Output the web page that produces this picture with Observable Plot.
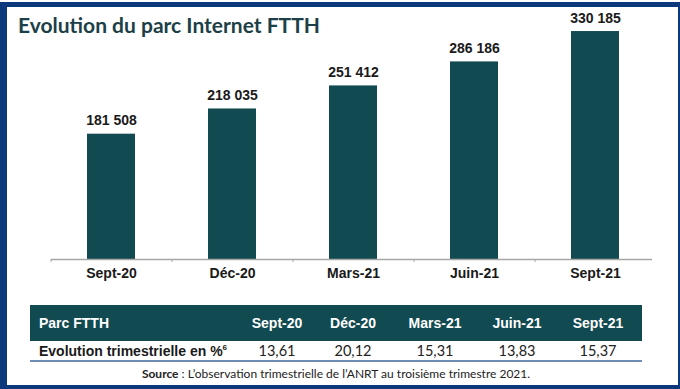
<!DOCTYPE html>
<html>
<head>
<meta charset="utf-8">
<script src="https://cdn.jsdelivr.net/npm/d3@7"></script>
<script src="https://cdn.jsdelivr.net/npm/@observablehq/plot@0.6"></script>
<style>
  html, body { margin: 0; padding: 0; background: #fff; }
  #frame { position: relative; width: 680px; height: 389px; overflow: hidden; background: #fff; }
  #navy { position: absolute; left: 0; top: 2px; width: 680px; height: 387px; background: #0c397b; }
  #inner { position: absolute; left: 7px; top: 7px; width: 671px; height: 378px; background: #fff; }
  #title { position: absolute; left: 18px; top: 14px; font-family: Lato, sans-serif; font-weight: 700; font-size: 21px; line-height: 21px; color: #1c3f48; white-space: nowrap; }
  #chart { position: absolute; left: 0; top: 0; }
  #tbl { position: absolute; left: 30px; top: 305px; width: 612px; border-collapse: collapse; table-layout: fixed; }
  #tbl th { background: #114a51; color: #fff; font-family: "Liberation Sans", Arial, sans-serif; font-weight: 700; font-size: 14px; height: 36px; padding: 0; text-align: center; }
  #tbl th:first-child { text-align: left; padding-left: 9px; }
  #tbl td { font-family: Lato, sans-serif; font-size: 14.5px; color: #222; height: 19px; padding: 0; text-align: center; border-bottom: 2px solid #6f8db3; }
  #tbl td:first-child { font-family: "Liberation Sans", Arial, sans-serif; font-weight: 700; font-size: 14px; text-align: left; padding-left: 9px; color: #1a1a1a; }
  #tbl sup { font-size: 8px; vertical-align: 6px; line-height: 0; }
  #source { position: absolute; left: 30px; width: 612px; top: 366px; text-align: center; font-family: Lato, sans-serif; font-size: 12px; color: #222; white-space: nowrap; }
</style>
</head>
<body>
<div id="frame">
  <div id="navy"></div>
  <div id="inner"></div>
  <div id="chart"></div>
  <div id="title"></div>
  <table id="tbl"></table>
  <div id="source"></div>
</div>
<script>
const titleText = "Evolution du parc Internet FTTH";
const categories = ["Sept-20", "Déc-20", "Mars-21", "Juin-21", "Sept-21"];
const parcFTTH = [181508, 218035, 251412, 286186, 330185];
const evolution = ["13,61", "20,12", "15,31", "13,83", "15,37"];
const tableHeader = "Parc FTTH";
const rowLabel = "Evolution trimestrielle en %";
const rowNote = "6";
const sourceBold = "Source";
const sourceText = " : L’observation trimestrielle de l’ANRT au troisième trimestre 2021.";

const data = categories.map((c, i) => ({cat: c, value: parcFTTH[i]}));
const fmt = v => d3.format(",")(v).replace(/,/g, " ");

const barColor = "#124a51";
const step = 121;

const chart = Plot.plot({
  width: 680,
  height: 300,
  marginLeft: 51,
  marginRight: 24,
  marginTop: 17.35,
  marginBottom: 41,
  style: {background: "transparent", overflow: "visible"},
  x: {domain: categories, paddingInner: 0.6, paddingOuter: 0.3, align: 0.5, label: null},
  y: {domain: [0, 350000], axis: null},
  marks: [
    Plot.barY(data, {x: "cat", y: "value", fill: barColor}),
    Plot.ruleY([0], {stroke: "#a6a6a6", strokeWidth: 1.3, insetRight: 4}),
    Plot.ruleX(categories, {x: d => d, y1: 0, y2: -4500, stroke: "#a6a6a6", dx: -step / 2}),
    Plot.text(data, {x: "cat", y: "value", text: d => fmt(d.value), dy: -9, lineAnchor: "bottom", fontSize: 14, fontWeight: "bold", fill: "#1a1a1a", fontFamily: "Liberation Sans, Arial, sans-serif"}),
    Plot.axisX({tickSize: 0, tickPadding: 9, fontSize: 14, fontWeight: "bold", fill: "#1a1a1a", fontFamily: "Liberation Sans, Arial, sans-serif", label: null})
  ]
});
document.getElementById("chart").appendChild(chart);

document.getElementById("title").textContent = titleText;

const tbl = document.getElementById("tbl");
const widths = [208, 78, 74, 90, 74, 88];
const colgroup = document.createElement("colgroup");
widths.forEach(w => { const c = document.createElement("col"); c.style.width = w + "px"; colgroup.appendChild(c); });
tbl.appendChild(colgroup);
const tr1 = document.createElement("tr");
[tableHeader, ...categories].forEach(t => { const th = document.createElement("th"); th.textContent = t; tr1.appendChild(th); });
tbl.appendChild(tr1);
const tr2 = document.createElement("tr");
const td0 = document.createElement("td");
td0.textContent = rowLabel;
const sup = document.createElement("sup"); sup.textContent = rowNote; td0.appendChild(sup);
tr2.appendChild(td0);
evolution.forEach(t => { const td = document.createElement("td"); td.textContent = t; tr2.appendChild(td); });
tbl.appendChild(tr2);

const src = document.getElementById("source");
const b = document.createElement("b"); b.textContent = sourceBold;
src.appendChild(b);
src.appendChild(document.createTextNode(sourceText));
</script>
</body>
</html>
